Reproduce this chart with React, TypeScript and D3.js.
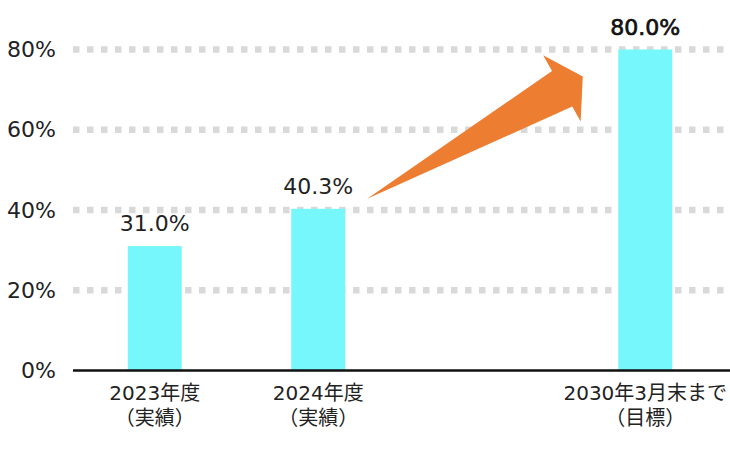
import * as d3 from "d3"

const categories = ["2023", "2024", "gap", "2030"]
const labelTop = ["2023年度", "2024年度", "", "2030年3月末まで"]
const labelBottom = ["（実績）", "（実績）", "", "（目標）"]
const values: (number | null)[] = [31.0, 40.3, null, 80.0]
const valueLabels = ["31.0%", "40.3%", "", "80.0%"]
const yTicks = [0, 20, 40, 60, 80]

const W = 730
const H = 451
const BAR = "#75F7FC"
const ORANGE = "#ED7D31"
const FONT = "'DejaVu Sans', 'Noto Sans CJK JP', sans-serif"

export default function App() {
  const x = d3.scaleBand<string>()
    .domain(categories)
    .range([73, 727])
    .paddingInner(0.67)
    .paddingOuter(0.335)
  const y = d3.scaleLinear().domain([0, 80]).range([370.5, 49.5])
  const bw = x.bandwidth()

  // arrow from the 2024 bar up to the 2030 target
  const tail: [number, number] = [x("2024")! + bw + 22, y(40.3) - 10]
  const tip: [number, number] = [x("2030")! - 35.5, y(80) + 27]
  const dx = tip[0] - tail[0]
  const dy = tip[1] - tail[1]
  const len = Math.hypot(dx, dy)
  const ang = (Math.atan2(dy, dx) * 180) / Math.PI
  const head = 24
  const arrowPts: [number, number][] = [
    [0, 0],
    [len - head, -20],
    [len - head, -38],
    [len, 0],
    [len - head, 38],
    [len - head, 21],
  ]

  return (
    <svg width={W} height={H} style={{ position: "fixed", left: 0, top: 0, background: "#fff" }}>
      {/* dotted grid */}
      {yTicks.filter((t) => t > 0).map((t) => (
        <line key={t} x1={73} x2={W} y1={y(t)} y2={y(t)}
          stroke="#d9d9d9" strokeWidth={6.5} strokeDasharray="6.5 7.5" />
      ))}

      {yTicks.map((t) => (
        <text key={t} x={56} y={y(t)} dy="0.35em" textAnchor="end"
          fontFamily={FONT} fontSize={22} fill="#222">{t}%</text>
      ))}

      {categories.map((c, i) => values[i] == null ? null : (
        <rect key={c} x={x(c)} y={y(values[i]!)} width={bw} height={y(0) - y(values[i]!)} fill={BAR} />
      ))}

      <line x1={73} x2={W} y1={y(0)} y2={y(0)} stroke="#111" strokeWidth={2.5} />

      {categories.map((c, i) => values[i] == null ? null : (
        <text key={c} x={x(c)! + bw / 2} y={y(values[i]!) - 15} textAnchor="middle"
          fontFamily={FONT} fontSize={22}
          stroke={i === 3 ? "#111" : "none"} strokeWidth={0.7}
          fill={i === 3 ? "#111" : "#222"}>{valueLabels[i]}</text>
      ))}

      {categories.map((c, i) => !labelTop[i] ? null : (
        <text key={c} textAnchor="middle" fontFamily={FONT} fontSize={20} fill="#222">
          <tspan x={x(c)! + bw / 2} y={400}>{labelTop[i]}</tspan>
          <tspan x={x(c)! + bw / 2} y={425}>{labelBottom[i]}</tspan>
        </text>
      ))}

      <polygon
        points={arrowPts.map((p) => p.join(",")).join(" ")}
        transform={`translate(${tail[0]},${tail[1]}) rotate(${ang})`}
        fill={ORANGE} />
    </svg>
  )
}
